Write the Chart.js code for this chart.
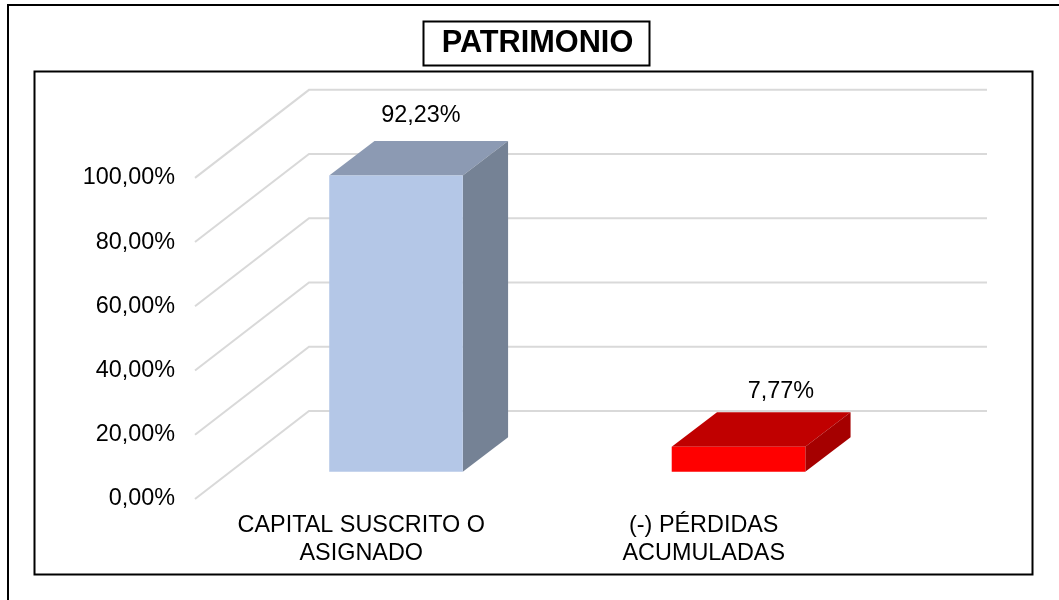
<!DOCTYPE html>
<html lang="es">
<head>
<meta charset="utf-8">
<title>PATRIMONIO</title>
<script src="https://cdn.jsdelivr.net/npm/chart.js@4"></script>
<style>
html,body{margin:0;padding:0;background:#fff;overflow:hidden}
#wrap{position:relative;width:1059px;height:600px}
</style>
</head>
<body>
<div id="wrap"><canvas id="c" width="1059" height="600"></canvas></div>
<script>
const categories = [['CAPITAL SUSCRITO O','ASIGNADO'],['(-) PÉRDIDAS','ACUMULADAS']];
const values = [92.23, 7.77];
const valueLabels = ['92,23%','7,77%'];
const yTicks = [0,20,40,60,80,100];
const titleText = 'PATRIMONIO';

const frontColors = ['#B4C7E7','#FF0000'];
const topColors   = ['#8C9AB3','#C00000'];
const sideColors  = ['#758295','#A50000'];
const labelShift  = [[25,-60],[42.5,-55]];

const FONT = '"Liberation Sans", Arial, sans-serif';
const wall = {dx:114, dy:-88, right:987};
const barDepth = {dx:45.3, dy:-34.5};
const barFront = {dx:29.75, dy:-27.3};

function poly(ctx, pts, fill){
  ctx.beginPath();
  pts.forEach((p,i)=> i ? ctx.lineTo(p[0],p[1]) : ctx.moveTo(p[0],p[1]));
  ctx.closePath();
  ctx.fillStyle = fill;
  ctx.fill();
}

const scene = {
  id:'scene',
  beforeDraw(chart){
    const ctx = chart.ctx;
    ctx.save();
    ctx.fillStyle='#fff';
    ctx.fillRect(0,0,chart.width,chart.height);
    ctx.strokeStyle='#000';
    ctx.lineWidth=2;
    ctx.strokeRect(8,5,1100,700);
    ctx.strokeRect(34.5,71.5,998,503);
    const t = chart.titleBlock;
    const w = ctx.measureText ? 226 : 226;
    const cx = (t.left+t.right)/2;
    ctx.fillStyle='#fff';
    ctx.fillRect(cx-w/2,21,w,45);
    ctx.strokeRect(423.5,21.5,226,44);
    ctx.restore();
  },
  beforeDatasetsDraw(chart){
    const ctx = chart.ctx, y = chart.scales.y, area = chart.chartArea;
    ctx.save();
    ctx.strokeStyle='#D9D9D9';
    ctx.lineWidth=2;
    yTicks.forEach(v=>{
      const py = y.getPixelForValue(v);
      ctx.beginPath();
      ctx.moveTo(area.left,py);
      ctx.lineTo(area.left+wall.dx,py+wall.dy);
      ctx.lineTo(wall.right,py+wall.dy);
      ctx.stroke();
    });
    ctx.restore();
    ctx.save();
    ctx.translate(barFront.dx,barFront.dy);
    const meta = chart.getDatasetMeta(0);
    meta.data.forEach((b,i)=>{
      const {x,y:top,base,width} = b.getProps(['x','y','base','width'],true);
      const l=x-width/2, r=x+width/2, d=barDepth;
      poly(ctx,[[l,top],[r,top],[r+d.dx,top+d.dy],[l+d.dx,top+d.dy]],topColors[i]);
      poly(ctx,[[r,top],[r+d.dx,top+d.dy],[r+d.dx,base+d.dy],[r,base]],sideColors[i]);
    });
  },
  afterDatasetsDraw(chart){
    const ctx = chart.ctx;
    ctx.restore();
    ctx.save();
    ctx.font = '23.4px '+FONT;
    ctx.fillStyle='#000';
    ctx.textAlign='center';
    ctx.textBaseline='middle';
    chart.getDatasetMeta(0).data.forEach((b,i)=>{
      const {x,y:top} = b.getProps(['x','y'],true);
      ctx.fillText(valueLabels[i], x+barFront.dx+labelShift[i][0], top+barFront.dy+labelShift[i][1]);
    });
    ctx.restore();
  }
};

new Chart(document.getElementById('c'),{
  type:'bar',
  data:{
    labels:categories,
    datasets:[{data:values, backgroundColor:frontColors, borderWidth:0, categoryPercentage:1, barPercentage:0.39, clip:false}]
  },
  plugins:[scene],
  options:{
    responsive:false,
    animation:false,
    layout:{padding:{left:0,right:179,top:0,bottom:0}},
    plugins:{
      legend:{display:false},
      tooltip:{enabled:false},
      title:{
        display:true,
        text:titleText,
        fullSize:false,
        color:'#000',
        font:{family:FONT,size:30.7,weight:'bold',lineHeight:1.2},
        padding:{top:25,bottom:116}
      }
    },
    scales:{
      x:{
        grid:{display:false,drawTicks:false},
        border:{display:false},
        afterFit(s){s.height=101;},
        ticks:{color:'#000',autoSkip:false,maxRotation:0,minRotation:0,padding:13,labelOffset:-5,
          font:{family:FONT,size:23.4,lineHeight:1.18}}
      },
      y:{
        min:0,max:100,
        grid:{display:false,drawTicks:false},
        border:{display:false},
        afterFit(s){s.width=195;},
        afterBuildTicks(s){s.ticks = yTicks.map(v=>({value:v}));},
        ticks:{color:'#000',padding:20,
          font:{family:FONT,size:23.4},
          callback:v=>v.toFixed(2).replace('.',',')+'%'}
      }
    }
  }
});
</script>
</body>
</html>
